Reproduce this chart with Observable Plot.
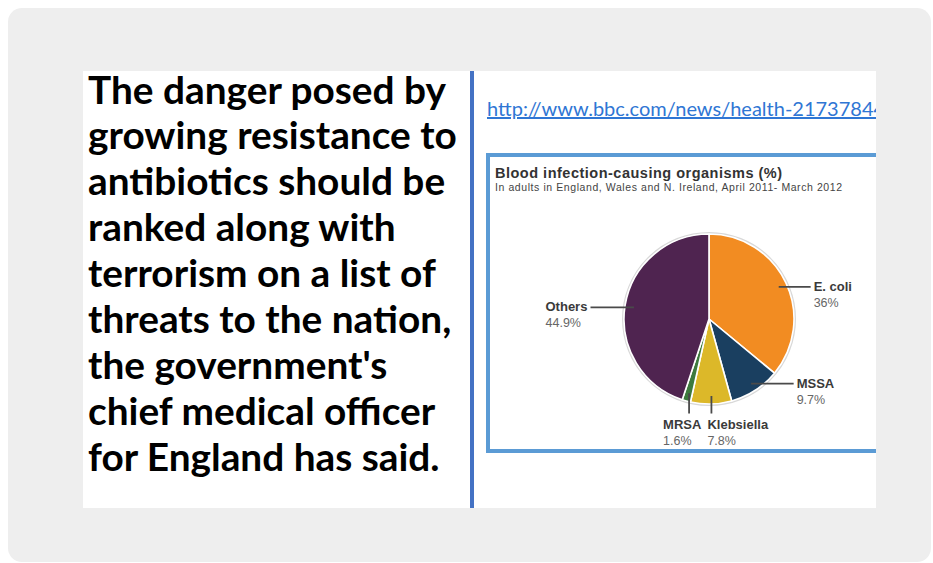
<!DOCTYPE html>
<html>
<head>
<meta charset="utf-8">
<script src="https://cdn.jsdelivr.net/npm/d3@7"></script>
<script src="https://cdn.jsdelivr.net/npm/@observablehq/plot@0.6"></script>
<style>
  html, body { margin: 0; padding: 0; background: #ffffff; }
  body { width: 933px; height: 563px; overflow: hidden; position: relative; }
  #bg { position: absolute; left: 8px; top: 8px; width: 923px; height: 554px; background: #eeeeee; border-radius: 14px; }
  #panel { position: absolute; left: 83px; top: 71px; width: 793px; height: 437px; background: #ffffff; overflow: hidden; }
  #para { position: absolute; left: 88px; top: 66.5px; font-family: Lato, "Open Sans", sans-serif; font-weight: 700;
          font-size: 38.8px; line-height: 45.9px; color: #000; white-space: nowrap; }
  #vline { position: absolute; left: 387px; top: 0; width: 4px; height: 437px; background: #4472c4; }
  #link { position: absolute; left: 404px; top: 27.3px; font-family: Lato, sans-serif; font-size: 20px; line-height: 20px;
          color: #2f76d4; text-decoration: underline; white-space: nowrap; }
  #box { position: absolute; left: 403px; top: 82px; width: 420px; height: 292px; border: 4px solid #5b9bd5; background: #fff; }
  #title { position: absolute; left: 5px; top: 8.5px; font-family: "Liberation Sans", Arial, sans-serif; font-weight: 700;
           font-size: 14.5px; line-height: 14.5px; letter-spacing: 0.5px; color: #333; white-space: nowrap; }
  #subtitle { position: absolute; left: 5px; top: 24.5px; font-family: "Liberation Sans", Arial, sans-serif;
              font-size: 10.5px; line-height: 10.5px; letter-spacing: 0.58px; color: #444; white-space: nowrap; }
  #chart { position: absolute; left: 0px; top: 39px; }
</style>
</head>
<body>
<div id="bg"></div>
<div id="panel">
  <div id="vline"></div>
  <div id="link">http://www.bbc.com/news/health-21737844</div>
  <div id="box">
    <div id="title">Blood infection-causing organisms (%)</div>
    <div id="subtitle">In adults in England, Wales and N. Ireland, April 2011- March 2012</div>
    <div id="chart"></div>
  </div>
</div>
<div id="para"></div>
<script>
// ---- data ----
const paragraphLines = [
  "The danger posed by",
  "growing resistance to",
  "antibiotics should be",
  "ranked along with",
  "terrorism on a list of",
  "threats to the nation,",
  "the government's",
  "chief medical officer",
  "for England has said."
];
const organisms = ["E. coli", "MSSA", "Klebsiella", "MRSA", "Others"];
const shares = [36, 9.7, 7.8, 1.6, 44.9];
const shareLabels = ["36%", "9.7%", "7.8%", "1.6%", "44.9%"];

// ---- styles / layout ----
const colors = ["#f28c22", "#1a3f60", "#dcb829", "#3d7a3d", "#4f2450"];
const labelLayout = {
  "E. coli":    {dir: "right", to: 1.19,  dx: 3},
  "MSSA":       {dir: "right", to: 0.99,  dx: 3},
  "Klebsiella": {dir: "down",  to: 1.106, dx: -4},
  "MRSA":       {dir: "down",  to: 1.106, dx: -26},
  "Others":     {dir: "left",  to: -1.40, dx: -45}
};
const W = 412, H = 253;   // plot size
const CX = 219, CY = 123, R = 85; // pie centre & radius in px within plot

document.getElementById("para").innerHTML = paragraphLines.join("<br>");

const rows = organisms.map((name, i) => ({name, share: shares[i], pct: shareLabels[i], color: colors[i]}));
const arcs = d3.pie().sort(null).value(d => d.share)(rows);

const labels = arcs.map(a => {
  const d = a.data, L = labelLayout[d.name];
  const mid = (a.startAngle + a.endAngle) / 2;
  const ax = 0.9 * Math.sin(mid), ay = -0.9 * Math.cos(mid);
  let x2, y2, tx, ny, py;
  if (L.dir === "down") {
    x2 = ax; y2 = L.to; tx = ax + L.dx / R; ny = L.to + 11 / R; py = L.to + 27 / R;
  } else {
    x2 = L.to; y2 = ay; tx = L.to + L.dx / R; ny = ay; py = ay + 16 / R;
  }
  return {name: d.name, pct: d.pct, ax, ay, x2, y2, tx, ny, py};
});

const pieMark = (index, scales) => {
  const cx = scales.x(0), cy = scales.y(0), r = scales.x(1) - scales.x(0);
  const g = d3.create("svg:g").attr("transform", `translate(${cx},${cy})`);
  g.append("circle").attr("r", r + 1).attr("fill", "none").attr("stroke", "#d8d8d8").attr("stroke-width", 2);
  g.selectAll("path").data(arcs).join("path")
    .attr("d", d3.arc().innerRadius(0).outerRadius(r))
    .attr("fill", a => a.data.color)
    .attr("stroke", "#ffffff").attr("stroke-width", 1.6).attr("stroke-linejoin", "round");
  return g.node();
};

const font = "Liberation Sans, Arial, sans-serif";

const plot = Plot.plot({
  width: W, height: H,
  margin: 0,
  x: {domain: [-CX / R, (W - CX) / R], range: [0, W], axis: null},
  y: {domain: [-CY / R, (H - CY) / R], range: [0, H], axis: null},
  style: {background: "transparent", fontFamily: font, overflow: "visible"},
  marks: [
    pieMark,
    Plot.link(labels, {x1: "ax", y1: "ay", x2: "x2", y2: "y2", stroke: "#4a4a4a", strokeWidth: 1.8}),
    Plot.text(labels, {x: "tx", y: "ny", text: "name", textAnchor: "start", fontWeight: "bold", fontSize: 13, fill: "#3a3a3a", fontFamily: font}),
    Plot.text(labels, {x: "tx", y: "py", text: "pct", textAnchor: "start", fontSize: 12.5, fill: "#666", fontFamily: font})
  ]
});
document.getElementById("chart").appendChild(plot);
</script>
</body>
</html>
